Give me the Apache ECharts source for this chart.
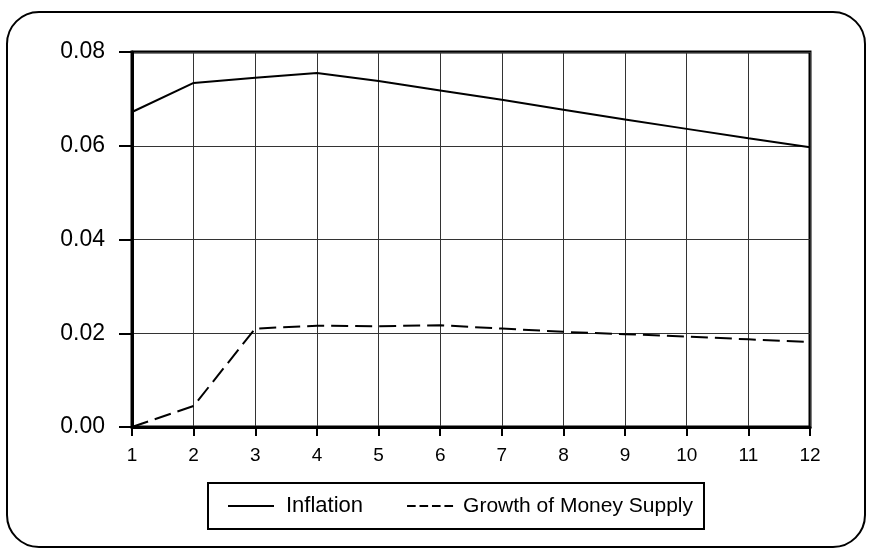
<!DOCTYPE html>
<html lang="en">
<head>
    <meta charset="UTF-8">
    <title>Inflation and Growth of Money Supply</title>
    <script src="https://cdn.jsdelivr.net/npm/echarts@6/dist/echarts.min.js"></script>
    <style>
        html, body { margin: 0; padding: 0; background: #fff; }
        #app { width: 871px; height: 550px; }
    </style>
</head>
<body>
    <div id="app"></div>
    <script>
        const periods = ['1', '2', '3', '4', '5', '6', '7', '8', '9', '10', '11', '12'];
        const inflation = [0.0672, 0.0734, 0.0745, 0.0755, 0.0738, 0.0718, 0.0698, 0.0677, 0.0656, 0.0636, 0.0616, 0.0597];
        const moneyGrowth = [0.0000, 0.0045, 0.0210, 0.0216, 0.0215, 0.0217, 0.0210, 0.0203, 0.0198, 0.0193, 0.0187, 0.0181];

        const font = '"Liberation Sans", Arial, sans-serif';
        const chart = echarts.init(document.getElementById('app'));

        // legend keys drawn as paths: one solid bar, four short dashes
        const solidKey = 'path://M0,0h46v2h-46z';
        const dashKey = 'path://M0,0h9v2h-9z M13,0h9v2h-9z M26,0h9v2h-9z M39,0h9v2h-9z';

        const option = {
            backgroundColor: '#fff',
            animation: false,
            graphic: [{
                type: 'rect',
                shape: { x: 7, y: 12, width: 858, height: 535, r: 32 },
                style: { fill: 'none', stroke: '#000', lineWidth: 2 }
            }],
            grid: {
                left: 132, right: 61, top: 52, bottom: 123,
                show: true,
                borderColor: '#000',
                borderWidth: 3
            },
            legend: {
                left: 208, top: 483,
                padding: [12, 11, 12, 20],
                borderColor: '#000',
                borderWidth: 2,
                itemWidth: 46,
                itemHeight: 2,
                itemGap: 44,
                data: [
                    { name: 'Inflation', icon: solidKey,
                      textStyle: { fontSize: 22, fontFamily: font, color: '#000', padding: [0, 0, 0, 7] } },
                    { name: 'Growth of Money Supply', icon: dashKey,
                      textStyle: { fontSize: 21, fontFamily: font, color: '#000', padding: [0, 0, 0, 5] } }
                ],
                itemStyle: { color: '#000' }
            },
            xAxis: {
                type: 'category',
                boundaryGap: false,
                data: periods,
                axisLine: { show: true, lineStyle: { color: '#000', width: 3 } },
                axisTick: { show: true, length: 9, lineStyle: { color: '#000', width: 2 } },
                axisLabel: { color: '#000', fontSize: 19, fontFamily: font, margin: 19 },
                splitLine: { show: true, lineStyle: { color: '#333', width: 1 } }
            },
            yAxis: {
                type: 'value',
                min: 0, max: 0.08, interval: 0.02,
                axisLine: { show: true, lineStyle: { color: '#000', width: 3 } },
                axisTick: { show: true, length: 13, lineStyle: { color: '#000', width: 2 } },
                axisLabel: {
                    color: '#000', fontSize: 23, fontFamily: font, margin: 27,
                    formatter: v => v.toFixed(2)
                },
                splitLine: { show: true, lineStyle: { color: '#333', width: 1 } }
            },
            series: [
                {
                    name: 'Inflation',
                    type: 'line',
                    data: inflation,
                    symbol: 'none',
                    lineStyle: { color: '#000', width: 2, type: 'solid' },
                    itemStyle: { color: '#000' }
                },
                {
                    name: 'Growth of Money Supply',
                    type: 'line',
                    data: moneyGrowth,
                    symbol: 'none',
                    lineStyle: { color: '#000', width: 2, type: [17, 7] },
                    itemStyle: { color: '#000' }
                }
            ]
        };

        chart.setOption(option);
    </script>
</body>
</html>
